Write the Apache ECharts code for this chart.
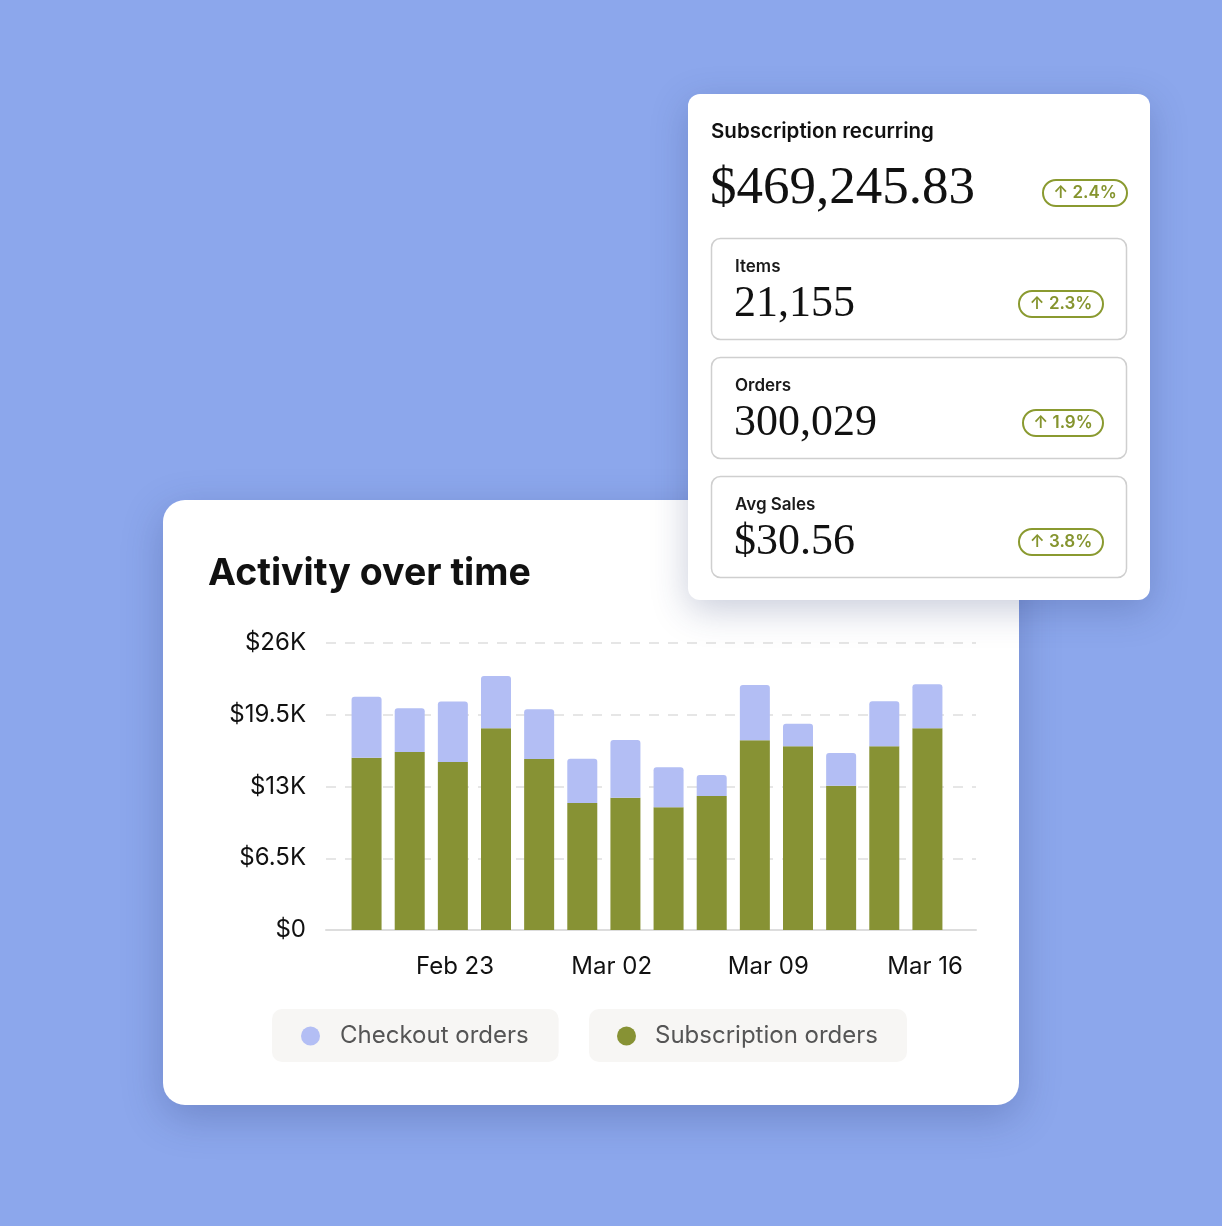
<!DOCTYPE html>
<html>
<head>
<meta charset="utf-8">
<title>Activity over time</title>
<script src="https://cdn.jsdelivr.net/npm/echarts@6/dist/echarts.min.js"></script>
<style>
    html, body { margin: 0; padding: 0; background: #8ca7ec; }
    #main { width: 1222px; height: 1226px; }
</style>
</head>
<body>
<div id="main"></div>
<script>
// 柱状图数据 (每根柱子一个类目)
var categories = ['1', '2', '3', '4', '5', '6', '7', '8', '9', '10', '11', '12', '13', '14'];
var subscriptionOrders = [15610, 16130, 15220, 18280, 15490, 11500, 11980, 11110, 12130, 17190, 16640, 13070, 16640, 18280];
var checkoutOrders = [5530, 3960, 5470, 4740, 4510, 4020, 5230, 3630, 1910, 5010, 2050, 2960, 4090, 3990];

// 坐标轴刻度文字
var yTickLabels = ['$0', '$6.5K', '$13K', '$19.5K', '$26K'];
var dateLabels = ['Feb 23', 'Mar 02', 'Mar 09', 'Mar 16'];

// 右上角卡片
var headlineLabel = 'Subscription recurring';
var headlineValue = '$469,245.83';
var headlineChange = '2.4%';
var kpiNames = ['Items', 'Orders', 'Avg Sales'];
var kpiValues = ['21,155', '300,029', '$30.56'];
var kpiChanges = ['2.3%', '1.9%', '3.8%'];

var GREEN = '#879234';
var LILAC = '#b3bef4';
var SANS = 'Inter, "Noto Sans", sans-serif';
var SERIF = '"Liberation Serif", "DejaVu Serif", serif';

function badge(x, y, w, text) {
    return [{
        type: 'rect', z: 20,
        shape: { x: x, y: y, width: w, height: 26, r: 13 },
        style: { fill: '#fff', stroke: '#8a9a30', lineWidth: 2 }
    }, {
        type: 'text', z: 21,
        x: x + w / 2, y: y + 13,
        style: {
            text: '\u2191 ' + text, fill: '#85942e',
            font: '600 17px ' + SANS, align: 'center', verticalAlign: 'middle'
        }
    }];
}

var graphics = [
    // 图表卡片
    {
        type: 'rect', z: -10,
        shape: { x: 163, y: 500, width: 856, height: 605, r: 22 },
        style: { fill: '#fff', shadowBlur: 40, shadowOffsetY: 12, shadowColor: 'rgba(40, 55, 110, 0.28)' }
    },
    // 指标卡片
    {
        type: 'rect', z: 10,
        shape: { x: 688, y: 94, width: 462, height: 506, r: 12 },
        style: { fill: '#fff', shadowBlur: 36, shadowOffsetY: 10, shadowColor: 'rgba(40, 55, 110, 0.25)' }
    },
    {
        type: 'text', z: 11, x: 711, y: 132,
        style: { text: headlineLabel, fill: '#111', font: '600 20.5px ' + SANS, verticalAlign: 'middle' }
    },
    {
        type: 'text', z: 11, x: 710, y: 189,
        style: { text: headlineValue, fill: '#111', font: '53px ' + SERIF, verticalAlign: 'middle' }
    }
].concat(badge(1043, 180, 84, headlineChange));

var badgeWidths = [84, 80, 84];
kpiNames.forEach(function (name, i) {
    var top = 238 + i * 119;
    graphics.push({
        type: 'rect', z: 11,
        shape: { x: 711.5, y: top + 0.5, width: 415, height: 101, r: 9 },
        style: { fill: '#fff', stroke: '#cfcfcf', lineWidth: 1.5 }
    }, {
        type: 'text', z: 12, x: 735, y: top + 29,
        style: { text: name, fill: '#1a1a1a', font: '600 17px ' + SANS, verticalAlign: 'middle' }
    }, {
        type: 'text', z: 12, x: 734, y: top + 66,
        style: { text: kpiValues[i], fill: '#111', font: '44px ' + SERIF, verticalAlign: 'middle' }
    });
    graphics = graphics.concat(badge(1103 - badgeWidths[i], top + 53, badgeWidths[i], kpiChanges[i]));
});

var myChart = echarts.init(document.getElementById('main'));

var option = {
    backgroundColor: '#8ca7ec',
    animation: false,
    title: {
        text: 'Activity over time',
        left: 203,
        top: 550,
        textStyle: { fontFamily: SANS, fontSize: 37.5, fontWeight: 'bold', color: '#111' }
    },
    legend: [{
        data: ['Checkout orders'],
        left: 272, top: 1009,
        selectedMode: false,
        icon: 'circle', itemWidth: 19, itemHeight: 19,
        backgroundColor: '#f7f6f4', borderRadius: 10,
        padding: [15, 30, 14, 29],
        textStyle: { fontFamily: SANS, fontSize: 24, color: '#555', lineHeight: 24, padding: [0, 0, 0, 15] }
    }, {
        data: ['Subscription orders'],
        left: 589, top: 1009,
        selectedMode: false,
        icon: 'circle', itemWidth: 19, itemHeight: 19,
        backgroundColor: '#f7f6f4', borderRadius: 10,
        padding: [15, 29, 14, 28],
        textStyle: { fontFamily: SANS, fontSize: 24, color: '#555', lineHeight: 24, padding: [0, 0, 0, 14] }
    }],
    graphic: graphics,
    grid: [
        // 0: y 轴刻度, 虚线, 底线
        { left: 326, right: 246, top: 643, bottom: 296 },
        // 1: 柱子
        { left: 345, right: 273, top: 643, bottom: 296 },
        // 2: 日期标签
        { left: 298.3, right: 140.3, top: 643, bottom: 296 }
    ],
    xAxis: [{
        gridIndex: 0, type: 'value', min: 0, max: 1,
        axisLine: { show: true, lineStyle: { color: '#dddddd', width: 2 } },
        axisTick: { show: false }, axisLabel: { show: false }, splitLine: { show: false }
    }, {
        gridIndex: 1, type: 'category', data: categories, show: false
    }, {
        gridIndex: 2, type: 'value', min: -7, max: 28, interval: 7,
        axisLine: { show: false }, axisTick: { show: false }, splitLine: { show: false },
        axisLabel: {
            margin: 25,
            fontFamily: SANS, fontSize: 24, color: '#111',
            formatter: function (v) {
                var i = v / 7;
                return dateLabels[i] || '';
            }
        }
    }],
    yAxis: [{
        gridIndex: 0, type: 'value', min: 0, max: 26000, interval: 6500,
        axisLine: { show: false }, axisTick: { show: false },
        axisLabel: {
            margin: 20,
            fontFamily: SANS, fontSize: 24, color: '#111',
            verticalAlign: 'middle',
            padding: [9, 0, 0, 0],
            formatter: function (v) { return yTickLabels[Math.round(v / 6500)]; }
        },
        splitLine: { lineStyle: { color: '#dedede', width: 1.5, type: [10, 9] } }
    }, {
        gridIndex: 1, type: 'value', min: 0, max: 26000, show: false
    }, {
        gridIndex: 2, type: 'value', min: 0, max: 26000, show: false
    }],
    series: [{
        name: 'Subscription orders',
        type: 'bar',
        stack: 'total',
        xAxisIndex: 1, yAxisIndex: 1,
        barWidth: 30,
        itemStyle: { color: GREEN },
        data: subscriptionOrders
    }, {
        name: 'Checkout orders',
        type: 'bar',
        stack: 'total',
        xAxisIndex: 1, yAxisIndex: 1,
        barWidth: 30,
        itemStyle: { color: LILAC, borderRadius: [3, 3, 0, 0] },
        data: checkoutOrders
    }]
};

myChart.setOption(option);
</script>
</body>
</html>
